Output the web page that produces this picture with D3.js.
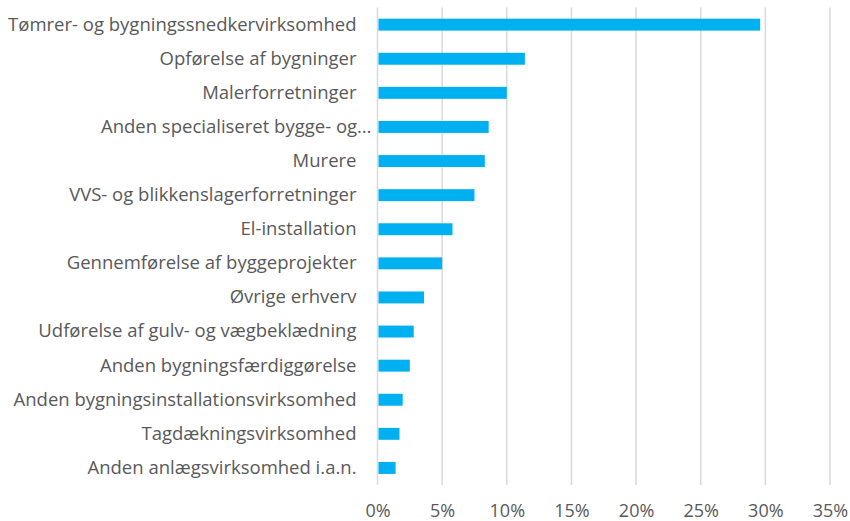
<!DOCTYPE html>
<html>
<head>
<meta charset="utf-8">
<script src="https://cdn.jsdelivr.net/npm/d3@7"></script>
<style>
  html, body { margin: 0; padding: 0; background: #fff; }
  svg { display: block; }
</style>
</head>
<body>
<svg id="chart" width="850" height="521"></svg>
<script>
// Share of companies by industry (percent)
const categories = [
  "Tømrer- og bygningssnedkervirksomhed",
  "Opførelse af bygninger",
  "Malerforretninger",
  "Anden specialiseret bygge- og…",
  "Murere",
  "VVS- og blikkenslagerforretninger",
  "El-installation",
  "Gennemførelse af byggeprojekter",
  "Øvrige erhverv",
  "Udførelse af gulv- og vægbeklædning",
  "Anden bygningsfærdiggørelse",
  "Anden bygningsinstallationsvirksomhed",
  "Tagdækningsvirksomhed",
  "Anden anlægsvirksomhed i.a.n."
];
const values = [29.6, 11.4, 10.0, 8.6, 8.3, 7.5, 5.8, 5.0, 3.6, 2.8, 2.5, 1.95, 1.7, 1.4];
const xTicks = [0, 5, 10, 15, 20, 25, 30, 35];

const svg = d3.select("#chart");
const margin = { top: 7.6, left: 377.5, right: 20, bottom: 36 };
const plotW = 830 - margin.left;
const plotH = 485 - margin.top;

const x = d3.scaleLinear().domain([0, 35]).range([0, plotW]);
const y = d3.scaleBand().domain(categories).range([0, plotH]).paddingInner(0.65).paddingOuter(0.325);

const g = svg.append("g").attr("transform", `translate(${margin.left},${margin.top})`);

// vertical gridlines
g.append("g")
  .selectAll("line")
  .data(xTicks)
  .join("line")
  .attr("x1", d => x(d)).attr("x2", d => x(d))
  .attr("y1", 0).attr("y2", plotH)
  .attr("stroke", "#d9d9d9")
  .attr("stroke-width", 1.5);

// bars
g.append("g")
  .selectAll("rect")
  .data(values)
  .join("rect")
  .attr("x", x(0) + 1)
  .attr("y", (d, i) => y(categories[i]))
  .attr("width", d => x(d) - 1)
  .attr("height", y.bandwidth())
  .attr("fill", "#00b0f0");

// x axis labels
const xAxis = d3.axisBottom(x)
  .tickValues(xTicks)
  .tickFormat(d => d + "%")
  .tickSize(0)
  .tickPadding(19);
const xa = g.append("g").attr("transform", `translate(0,${plotH})`).call(xAxis);
xa.select(".domain").remove();
xa.selectAll("text")
  .attr("fill", "#595959")
  .style("font-family", "'Open Sans', sans-serif")
  .style("font-size", "18px");

// category labels
const yAxis = d3.axisLeft(y).tickSize(0).tickPadding(21);
const ya = g.append("g").call(yAxis);
ya.select(".domain").remove();
ya.selectAll("text")
  .attr("fill", "#595959")
  .attr("x", d => d.endsWith("…") ? -6 : -21)
  .style("font-family", "'Open Sans', sans-serif")
  .style("font-size", "18.5px");
</script>
</body>
</html>
